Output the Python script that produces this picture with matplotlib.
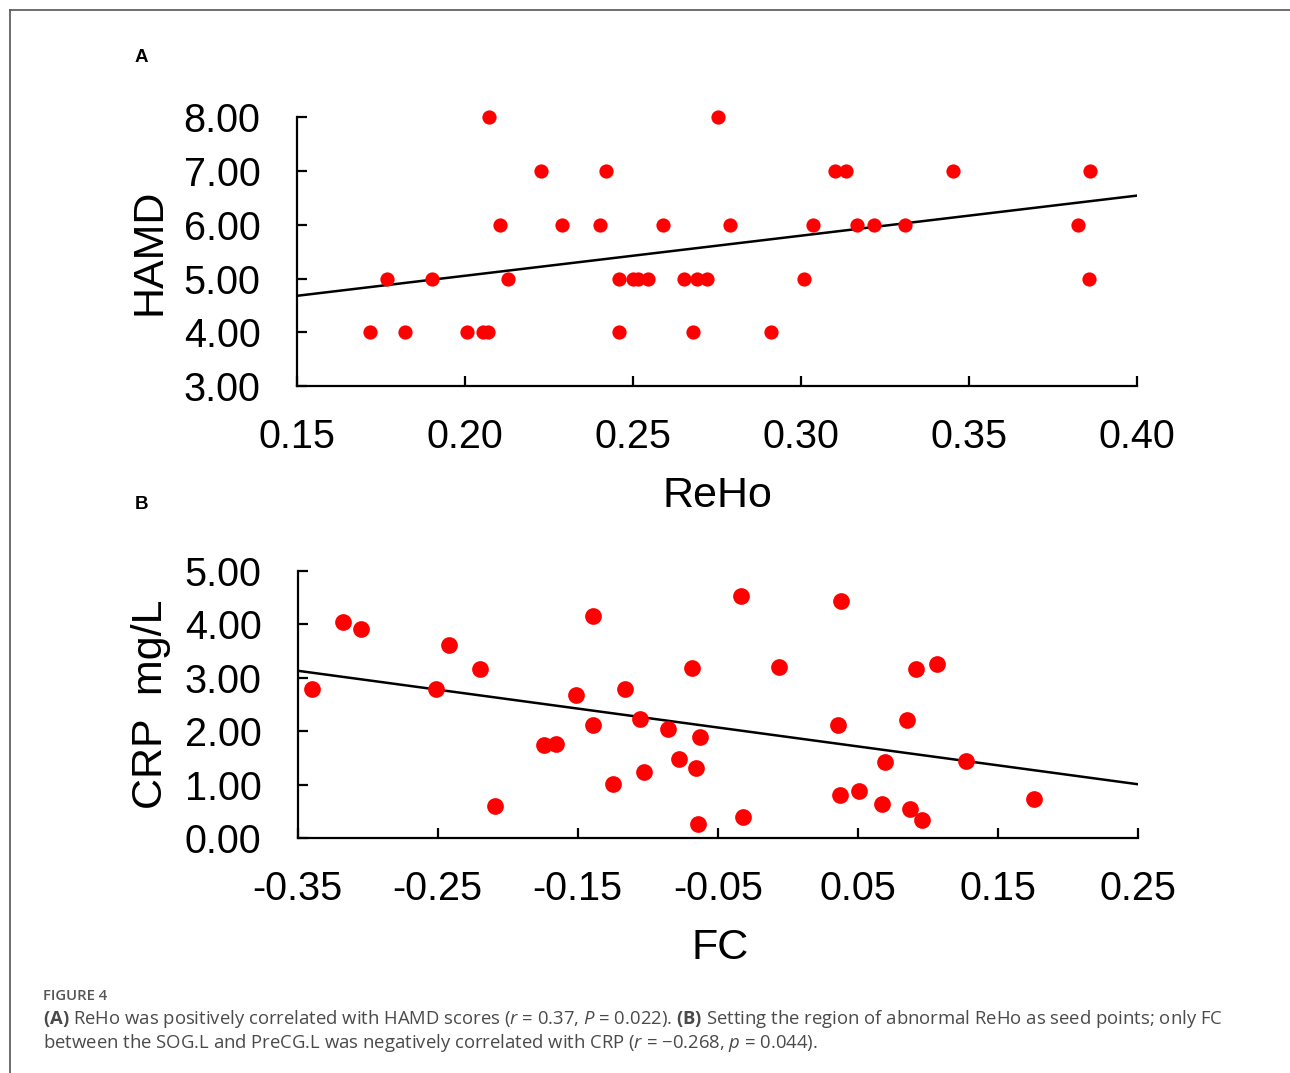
import numpy as np
import matplotlib
matplotlib.use('Agg')
import matplotlib.pyplot as plt
from matplotlib.lines import Line2D

plt.rcParams['font.family'] = ['Liberation Sans', 'DejaVu Sans']
plt.rcParams['mathtext.fontset'] = 'custom'
plt.rcParams['mathtext.rm'] = 'Open Sans'
plt.rcParams['mathtext.it'] = 'Open Sans:italic'
plt.rcParams['mathtext.bf'] = 'Open Sans:bold'

# panel A: ReHo vs HAMD
reho = [0.1718, 0.1770, 0.1823, 0.1903, 0.2007, 0.2055, 0.2070, 0.2073, 0.2105, 0.2129,
        0.2227, 0.2289, 0.2403, 0.2420, 0.2460, 0.2459, 0.2500, 0.2515, 0.2545, 0.2589,
        0.2652, 0.2691, 0.2721, 0.2679, 0.2753, 0.2789, 0.2912, 0.3011, 0.3037, 0.3101,
        0.3136, 0.3169, 0.3218, 0.3309, 0.3452, 0.3825, 0.3860, 0.3858]
hamd = [4, 5, 4, 5, 4, 4, 4, 8, 6, 5,
        7, 6, 6, 7, 5, 4, 5, 5, 5, 6,
        5, 5, 5, 4, 8, 6, 4, 5, 6, 7,
        7, 6, 6, 6, 7, 6, 7, 5]

# panel B: FC vs CRP
fc = [-0.3399, -0.3173, -0.3046, -0.2511, -0.2418, -0.2201, -0.2089, -0.1739, -0.1656, -0.1516,
      -0.1394, -0.1391, -0.1251, -0.1166, -0.1056, -0.1027, -0.0856, -0.0775, -0.0684, -0.0654,
      -0.0630, -0.0644, -0.0332, -0.0323, -0.0063, 0.0354, 0.0382, 0.0373, 0.0509, 0.0673,
      0.0689, 0.0849, 0.0870, 0.0913, 0.0956, 0.1063, 0.1273, 0.1756]
crp = [2.79, 4.05, 3.91, 2.79, 3.61, 3.16, 0.60, 1.74, 1.76, 2.68,
       4.16, 2.11, 1.01, 2.79, 2.22, 1.23, 2.04, 1.48, 3.18, 1.31,
       1.89, 0.26, 4.52, 0.40, 3.20, 2.12, 4.44, 0.81, 0.88, 0.64,
       1.42, 2.21, 0.54, 3.16, 0.34, 3.26, 1.45, 0.74]

xticks_a = [0.15, 0.20, 0.25, 0.30, 0.35, 0.40]
yticks_a = [3, 4, 5, 6, 7, 8]
xticks_b = [-0.35, -0.25, -0.15, -0.05, 0.05, 0.15, 0.25]
yticks_b = [0, 1, 2, 3, 4, 5]

W, H = 1290, 1073
fig = plt.figure(figsize=(W / 100, H / 100), dpi=100)


def px_axes(l, t, r, b):
    return fig.add_axes([l / W, 1 - b / H, (r - l) / W, (b - t) / H])


def style(ax):
    for s in ['top', 'right']:
        ax.spines[s].set_visible(False)
    for s in ['left', 'bottom']:
        ax.spines[s].set_linewidth(1.6)
    ax.tick_params(direction='in', length=7, width=1.6, labelsize=28.5)
    ax.tick_params(axis='x', pad=23)
    ax.tick_params(axis='y', pad=26)
    ax.patch.set_visible(False)


# frame round the figure panel
fig.add_artist(Line2D([10 / W, 10 / W], [0, 1 - 10 / H], color='#555555', lw=1.2))
fig.add_artist(Line2D([10 / W, 1], [1 - 10 / H, 1 - 10 / H], color='#555555', lw=1.2))

# panel A
ax1 = px_axes(296.7, 117.3, 1136.7, 386)
style(ax1)
ax1.scatter(reho, hamd, s=105, color='#ff0000', zorder=3, clip_on=False, linewidths=0)
k, b0 = np.polyfit(reho, hamd, 1)
xl = np.array([xticks_a[0], xticks_a[-1]])
ax1.plot(xl, k * xl + b0, color='black', lw=1.8, zorder=2)
ax1.set_xlim(0.15, 0.40)
ax1.set_ylim(3, 8)
ax1.set_xticks(xticks_a)
ax1.set_yticks(yticks_a)
ax1.set_xticklabels(['%.2f' % v for v in xticks_a])
ax1.set_yticklabels(['%.2f' % v for v in yticks_a])
fig.text(717 / W, 1 - 507 / H, 'ReHo', fontsize=31, ha='center', va='baseline')
fig.text(150 / W, 1 - 252 / H, 'HAMD', fontsize=31, ha='center', va='center', rotation=90)
fig.text(141 / W, 1 - 58 / H, 'A', fontsize=13.5, fontweight='bold', ha='center', va='center')

# panel B
ax2 = px_axes(297.5, 570.7, 1138.3, 838.3)
style(ax2)
ax2.scatter(fc, crp, s=145, color='#ff0000', zorder=3, clip_on=False, linewidths=0)
k2, b2 = np.polyfit(fc, crp, 1)
xl2 = np.array([xticks_b[0], xticks_b[-1]])
ax2.plot(xl2, k2 * xl2 + b2, color='black', lw=1.8, zorder=2)
ax2.set_xlim(-0.35, 0.25)
ax2.set_ylim(0, 5)
ax2.set_xticks(xticks_b)
ax2.set_yticks(yticks_b)
ax2.set_xticklabels(['%.2f' % v for v in xticks_b])
ax2.set_yticklabels(['%.2f' % v for v in yticks_b])
fig.text(720 / W, 1 - 959 / H, 'FC', fontsize=31, ha='center', va='baseline')
fig.text(151 / W, 1 - 704 / H, 'CRP  mg/L', fontsize=31, ha='center', va='center', rotation=90)
fig.text(141 / W, 1 - 505 / H, 'B', fontsize=13.5, fontweight='bold', ha='center', va='center')

# caption
fig.text(43 / W, 1 - 1000 / H, 'FIGURE 4', fontsize=10.7, color='#555555',
         family='Open Sans', fontweight='semibold', va='baseline')
cap1 = (r'$\mathbf{(A)}$ ReHo was positively correlated with HAMD scores ($r$ = 0.37, $P$ = 0.022). '
        r'$\mathbf{(B)}$ Setting the region of abnormal ReHo as seed points; only FC')
cap2 = r'between the SOG.L and PreCG.L was negatively correlated with CRP ($r$ = −0.268, $p$ = 0.044).'
fig.text(43 / W, 1 - 1024 / H, cap1, fontsize=13.3, color='#4a4a4a', family='Open Sans', va='baseline')
fig.text(43 / W, 1 - 1048 / H, cap2, fontsize=13.3, color='#4a4a4a', family='Open Sans', va='baseline')

fig.savefig('out.png', dpi=100, facecolor='white')
